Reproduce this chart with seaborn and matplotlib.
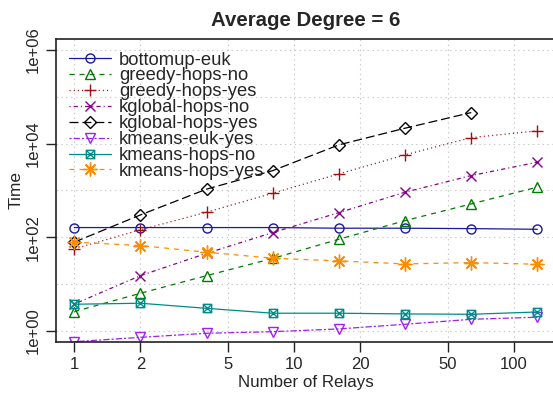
import numpy as np
import pandas as pd
import matplotlib
matplotlib.use("Agg")
import matplotlib.pyplot as plt
import seaborn as sns
from matplotlib.path import Path
from matplotlib.ticker import FixedLocator, NullLocator

relays = [1, 2, 4, 8, 16, 32, 64, 128]

bottomup_euk = [160, 160, 160, 160, 155, 155, 152, 147]
greedy_hops_no = [2.55, 6.3, 15, 35, 90, 225, 513, 1170]
greedy_hops_yes = [56, 143, 341, 869, 2250, 5730, 13400, 18700]
kglobal_hops_no = [3.7, 15, 45, 125, 334, 912, 2070, 4000]
kglobal_hops_yes = [78, 298, 1060, 2640, 9380, 21300, 46000]
kmeans_euk_yes = [0.58, 0.72, 0.88, 0.95, 1.09, 1.37, 1.75, 1.94]
kmeans_hops_no = [3.67, 3.86, 3.0, 2.36, 2.36, 2.28, 2.24, 2.51]
kmeans_hops_yes = [78, 66, 47.5, 35.4, 31, 26.7, 28.5, 26.3]

series_names = ["bottomup-euk", "greedy-hops-no", "greedy-hops-yes", "kglobal-hops-no",
                "kglobal-hops-yes", "kmeans-euk-yes", "kmeans-hops-no", "kmeans-hops-yes"]
series_values = [bottomup_euk, greedy_hops_no, greedy_hops_yes, kglobal_hops_no,
                 kglobal_hops_yes, kmeans_euk_yes, kmeans_hops_no, kmeans_hops_yes]

y_ticks = [1, 1e2, 1e4, 1e6]
y_tick_labels = ["1e+00", "1e+02", "1e+04", "1e+06"]
x_ticks = [1, 2, 5, 10, 20, 50, 100]

# square with a cross inside (R pch 7)
box_x = Path([(-1, -1), (1, -1), (1, 1), (-1, 1), (-1, -1), (-1, -1), (1, 1), (-1, 1), (1, -1)],
             [Path.MOVETO, Path.LINETO, Path.LINETO, Path.LINETO, Path.CLOSEPOLY,
              Path.MOVETO, Path.LINETO, Path.MOVETO, Path.LINETO])

# color, marker, linestyle, markersize
styles = {
    "bottomup-euk": ("#1a1a9a", "o", "-", 6.5),
    "greedy-hops-no": ("#007a00", "^", (0, (3.6, 3.6)), 7.5),
    "greedy-hops-yes": ("#a01010", "+", (0, (0.8, 2.2)), 9),
    "kglobal-hops-no": ("#8b008b", "x", (0, (0.8, 2.2, 3.0, 2.2)), 7),
    "kglobal-hops-yes": ("black", "D", (0, (6.5, 2.8)), 6),
    "kmeans-euk-yes": ("#a020f0", "v", (0, (1.5, 1.5, 4.5, 1.5)), 7.5),
    "kmeans-hops-no": ("#008b8b", box_x, "-", 6),
    "kmeans-hops-yes": ("#ff8c00", (8, 2, 0), (0, (3.6, 3.6)), 10),
}

sns.set_theme(style="white")
plt.rcParams["font.family"] = ["Liberation Sans", "DejaVu Sans"]
plt.rcParams["lines.scale_dashes"] = False

fig = plt.figure(figsize=(5.53, 3.96), dpi=100)
ax = fig.add_axes([0.1007, 0.1364, 0.9046, 0.7659])

for name, vals in zip(series_names, series_values):
    color, marker, ls, ms = styles[name]
    sns.lineplot(x=relays[:len(vals)], y=vals, ax=ax, color=color, marker=marker,
                 linestyle=ls, linewidth=0.9, markersize=ms, markerfacecolor="none",
                 markeredgecolor=color, markeredgewidth=1.0, label=name,
                 estimator=None, sort=False)

ax.set_xscale("log")
ax.set_yscale("log")
ax.set_xlim(2 ** -0.28, 2 ** 7.28)
ax.set_ylim(10 ** -0.242, 10 ** 6.242)

for d in range(0, 7):
    ax.axhline(10.0 ** d, color="#c8c8c8", linestyle=(0, (1, 2.5)), linewidth=0.8, zorder=0)
for xv in x_ticks:
    ax.axvline(xv, color="#c8c8c8", linestyle=(0, (1, 2.5)), linewidth=0.8, zorder=0)

ax.xaxis.set_major_locator(FixedLocator(x_ticks))
ax.set_xticklabels([str(v) for v in x_ticks])
ax.xaxis.set_minor_locator(NullLocator())
ax.yaxis.set_major_locator(FixedLocator(y_ticks))
ax.set_yticklabels(y_tick_labels, rotation=90, va="center")
ax.yaxis.set_minor_locator(NullLocator())
ax.tick_params(axis="both", which="major", direction="out", length=7, width=1,
               color="#222222", labelsize=12, pad=4, left=True, bottom=True)

for sp in ax.spines.values():
    sp.set_color("#222222")
    sp.set_linewidth(1.2)

ax.set_xlabel("Number of Relays", fontsize=12.2, labelpad=2)
ax.set_ylabel("Time", fontsize=12.5, labelpad=1)
ax.set_title("Average Degree = 6", fontsize=14.7, fontweight="bold", pad=9)

ax.legend(loc="upper left", frameon=False, fontsize=13.2, handlelength=2.3,
          handletextpad=0.45, labelspacing=-0.06, borderaxespad=0.3,
          bbox_to_anchor=(0.0, 1.0), numpoints=1)

fig.savefig("out.png", dpi=100)
